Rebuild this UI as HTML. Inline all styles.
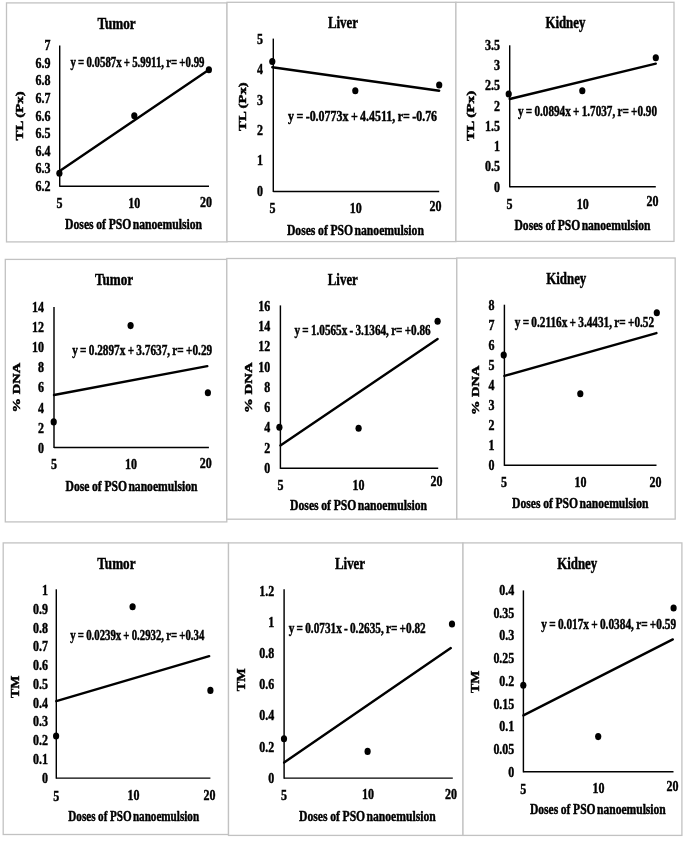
<!DOCTYPE html>
<html><head><meta charset="utf-8"><title>Figure</title>
<style>
html,body{margin:0;padding:0;background:#fff;}
body{width:685px;height:842px;overflow:hidden;}
svg{display:block;filter:blur(0.45px);font-family:"Liberation Serif",serif;font-weight:bold;fill:#000;}
text{stroke:#000;stroke-width:0.45;word-spacing:-0.7px;}
.ax{stroke:#000;stroke-width:1.45;}
.tr{stroke:#000;stroke-width:2.4;stroke-linecap:round;}
</style></head><body>
<svg width="685" height="842" viewBox="0 0 685 842">
<rect width="685" height="842" fill="#fff"/>
<!-- p1 -->
<rect x="6.5" y="2.9" width="220.5" height="239.0" fill="#fff" stroke="#c2c2c2" stroke-width="1.3"/>
<text x="97.5" y="28.8" font-size="16" textLength="38.2" lengthAdjust="spacingAndGlyphs">Tumor</text>
<line x1="59.7" y1="45.5" x2="59.7" y2="186.8" class="ax"/>
<line x1="59.7" y1="186.2" x2="209.0" y2="186.2" class="ax"/>
<text x="44.6" y="50.1" font-size="15.2" textLength="6.0" lengthAdjust="spacingAndGlyphs">7</text>
<text x="35.6" y="67.7" font-size="15.2" textLength="15.0" lengthAdjust="spacingAndGlyphs">6.9</text>
<text x="35.6" y="85.3" font-size="15.2" textLength="15.0" lengthAdjust="spacingAndGlyphs">6.8</text>
<text x="35.6" y="102.9" font-size="15.2" textLength="15.0" lengthAdjust="spacingAndGlyphs">6.7</text>
<text x="35.6" y="120.5" font-size="15.2" textLength="15.0" lengthAdjust="spacingAndGlyphs">6.6</text>
<text x="35.6" y="138.1" font-size="15.2" textLength="15.0" lengthAdjust="spacingAndGlyphs">6.5</text>
<text x="35.6" y="155.7" font-size="15.2" textLength="15.0" lengthAdjust="spacingAndGlyphs">6.4</text>
<text x="35.6" y="173.3" font-size="15.2" textLength="15.0" lengthAdjust="spacingAndGlyphs">6.3</text>
<text x="35.6" y="190.8" font-size="15.2" textLength="15.0" lengthAdjust="spacingAndGlyphs">6.2</text>
<text x="56.4" y="208.0" font-size="15.2" textLength="6.0" lengthAdjust="spacingAndGlyphs">5</text>
<text x="128.2" y="208.2" font-size="15.2" textLength="12.0" lengthAdjust="spacingAndGlyphs">10</text>
<text x="200.1" y="207.1" font-size="15.2" textLength="12.0" lengthAdjust="spacingAndGlyphs">20</text>
<text x="65.1" y="229.3" font-size="14.5" textLength="137.0" lengthAdjust="spacingAndGlyphs" style="word-spacing:-0.3px">Doses of PSO <tspan dx="-1.6">nanoemulsion</tspan></text>
<text transform="translate(23.2,140.4) rotate(-90)" font-size="10.5" textLength="49.0" lengthAdjust="spacingAndGlyphs" style="word-spacing:0">TL (Px)</text>
<text x="70.5" y="66.7" font-size="14" textLength="134.0" lengthAdjust="spacingAndGlyphs">y = 0.0587x + 5.9911, r= +0.99</text>
<line x1="59.7" y1="171.0" x2="208.9" y2="69.8" class="tr"/>
<ellipse cx="59.4" cy="173.3" rx="3.1" ry="3.55"/>
<ellipse cx="134.3" cy="115.8" rx="3.1" ry="3.55"/>
<ellipse cx="208.9" cy="69.8" rx="3.1" ry="3.55"/>
<!-- p2 -->
<rect x="227.0" y="2.3" width="228.9" height="239.3" fill="#fff" stroke="#c2c2c2" stroke-width="1.3"/>
<text x="327.9" y="27.8" font-size="16" textLength="30.0" lengthAdjust="spacingAndGlyphs">Liver</text>
<line x1="273.3" y1="38.6" x2="273.3" y2="192.0" class="ax"/>
<line x1="273.3" y1="191.4" x2="439.2" y2="191.4" class="ax"/>
<text x="257.0" y="43.9" font-size="15.2" textLength="6.0" lengthAdjust="spacingAndGlyphs">5</text>
<text x="257.0" y="74.3" font-size="15.2" textLength="6.0" lengthAdjust="spacingAndGlyphs">4</text>
<text x="257.0" y="104.6" font-size="15.2" textLength="6.0" lengthAdjust="spacingAndGlyphs">3</text>
<text x="257.0" y="135.0" font-size="15.2" textLength="6.0" lengthAdjust="spacingAndGlyphs">2</text>
<text x="257.0" y="165.3" font-size="15.2" textLength="6.0" lengthAdjust="spacingAndGlyphs">1</text>
<text x="257.0" y="195.7" font-size="15.2" textLength="6.0" lengthAdjust="spacingAndGlyphs">0</text>
<text x="269.6" y="213.3" font-size="15.2" textLength="6.0" lengthAdjust="spacingAndGlyphs">5</text>
<text x="349.8" y="213.3" font-size="15.2" textLength="12.0" lengthAdjust="spacingAndGlyphs">10</text>
<text x="429.6" y="211.3" font-size="15.2" textLength="12.0" lengthAdjust="spacingAndGlyphs">20</text>
<text x="286.9" y="234.8" font-size="14.5" textLength="137.0" lengthAdjust="spacingAndGlyphs" style="word-spacing:-0.3px">Doses of PSO <tspan dx="-1.6">nanoemulsion</tspan></text>
<text transform="translate(246.1,130.9) rotate(-90)" font-size="10.5" textLength="48.6" lengthAdjust="spacingAndGlyphs" style="word-spacing:0">TL (Px)</text>
<text x="288.1" y="120.6" font-size="14" textLength="149.0" lengthAdjust="spacingAndGlyphs">y = -0.0773x + 4.4511, r= -0.76</text>
<line x1="272.3" y1="67.2" x2="439.2" y2="90.7" class="tr"/>
<ellipse cx="272.3" cy="61.5" rx="3.1" ry="3.55"/>
<ellipse cx="355.3" cy="90.7" rx="3.1" ry="3.55"/>
<ellipse cx="439.2" cy="85.0" rx="3.1" ry="3.55"/>
<!-- p3 -->
<rect x="455.9" y="2.3" width="218.1" height="239.1" fill="#fff" stroke="#c2c2c2" stroke-width="1.3"/>
<text x="545.4" y="28.2" font-size="16" textLength="40.0" lengthAdjust="spacingAndGlyphs">Kidney</text>
<line x1="509.7" y1="45.3" x2="509.7" y2="187.3" class="ax"/>
<line x1="509.7" y1="186.7" x2="655.8" y2="186.7" class="ax"/>
<text x="484.9" y="49.9" font-size="15.2" textLength="15.0" lengthAdjust="spacingAndGlyphs">3.5</text>
<text x="493.9" y="70.1" font-size="15.2" textLength="6.0" lengthAdjust="spacingAndGlyphs">3</text>
<text x="484.9" y="90.4" font-size="15.2" textLength="15.0" lengthAdjust="spacingAndGlyphs">2.5</text>
<text x="493.9" y="110.6" font-size="15.2" textLength="6.0" lengthAdjust="spacingAndGlyphs">2</text>
<text x="484.9" y="130.9" font-size="15.2" textLength="15.0" lengthAdjust="spacingAndGlyphs">1.5</text>
<text x="493.9" y="151.1" font-size="15.2" textLength="6.0" lengthAdjust="spacingAndGlyphs">1</text>
<text x="484.9" y="171.4" font-size="15.2" textLength="15.0" lengthAdjust="spacingAndGlyphs">0.5</text>
<text x="493.9" y="191.7" font-size="15.2" textLength="6.0" lengthAdjust="spacingAndGlyphs">0</text>
<text x="506.4" y="208.8" font-size="15.2" textLength="6.0" lengthAdjust="spacingAndGlyphs">5</text>
<text x="576.7" y="208.6" font-size="15.2" textLength="12.0" lengthAdjust="spacingAndGlyphs">10</text>
<text x="646.4" y="206.4" font-size="15.2" textLength="12.0" lengthAdjust="spacingAndGlyphs">20</text>
<text x="514.5" y="229.8" font-size="14.5" textLength="136.0" lengthAdjust="spacingAndGlyphs" style="word-spacing:-0.3px">Doses of PSO <tspan dx="-1.6">nanoemulsion</tspan></text>
<text transform="translate(474.4,141.1) rotate(-90)" font-size="10.5" textLength="50.4" lengthAdjust="spacingAndGlyphs" style="word-spacing:0">TL (Px)</text>
<text x="518.0" y="116.1" font-size="14" textLength="139.0" lengthAdjust="spacingAndGlyphs">y = 0.0894x + 1.7037, r= +0.90</text>
<line x1="509.7" y1="99.0" x2="655.8" y2="63.6" class="tr"/>
<ellipse cx="508.7" cy="94.0" rx="3.1" ry="3.55"/>
<ellipse cx="582.3" cy="90.7" rx="3.1" ry="3.55"/>
<ellipse cx="655.8" cy="57.8" rx="3.1" ry="3.55"/>
<!-- p4 -->
<rect x="5.3" y="259.4" width="221.5" height="262.5" fill="#fff" stroke="#c2c2c2" stroke-width="1.3"/>
<text x="94.9" y="285.0" font-size="16" textLength="38.2" lengthAdjust="spacingAndGlyphs">Tumor</text>
<line x1="54.0" y1="307.0" x2="54.0" y2="448.0" class="ax"/>
<line x1="54.0" y1="447.4" x2="208.9" y2="447.4" class="ax"/>
<text x="32.0" y="311.8" font-size="15.2" textLength="12.0" lengthAdjust="spacingAndGlyphs">14</text>
<text x="32.0" y="332.0" font-size="15.2" textLength="12.0" lengthAdjust="spacingAndGlyphs">12</text>
<text x="32.0" y="352.1" font-size="15.2" textLength="12.0" lengthAdjust="spacingAndGlyphs">10</text>
<text x="38.0" y="372.2" font-size="15.2" textLength="6.0" lengthAdjust="spacingAndGlyphs">8</text>
<text x="38.0" y="392.4" font-size="15.2" textLength="6.0" lengthAdjust="spacingAndGlyphs">6</text>
<text x="38.0" y="412.5" font-size="15.2" textLength="6.0" lengthAdjust="spacingAndGlyphs">4</text>
<text x="38.0" y="432.6" font-size="15.2" textLength="6.0" lengthAdjust="spacingAndGlyphs">2</text>
<text x="38.0" y="452.8" font-size="15.2" textLength="6.0" lengthAdjust="spacingAndGlyphs">0</text>
<text x="51.0" y="469.2" font-size="15.2" textLength="6.0" lengthAdjust="spacingAndGlyphs">5</text>
<text x="125.0" y="468.8" font-size="15.2" textLength="12.0" lengthAdjust="spacingAndGlyphs">10</text>
<text x="199.8" y="467.5" font-size="15.2" textLength="12.0" lengthAdjust="spacingAndGlyphs">20</text>
<text x="65.5" y="490.5" font-size="14.5" textLength="132.0" lengthAdjust="spacingAndGlyphs" style="word-spacing:-0.3px">Dose of PSO <tspan dx="-1.6">nanoemulsion</tspan></text>
<text transform="translate(20.3,412.4) rotate(-90)" font-size="10.5" textLength="49.5" lengthAdjust="spacingAndGlyphs" style="word-spacing:0">% DNA</text>
<text x="72.2" y="355.4" font-size="14" textLength="140.0" lengthAdjust="spacingAndGlyphs">y = 0.2897x + 3.7637, r= +0.29</text>
<line x1="54.0" y1="395.0" x2="207.3" y2="366.1" class="tr"/>
<ellipse cx="53.7" cy="421.9" rx="3.1" ry="3.55"/>
<ellipse cx="130.6" cy="325.6" rx="3.1" ry="3.55"/>
<ellipse cx="207.9" cy="392.7" rx="3.1" ry="3.55"/>
<!-- p5 -->
<rect x="226.8" y="258.5" width="230.0" height="260.7" fill="#fff" stroke="#c2c2c2" stroke-width="1.3"/>
<text x="327.8" y="285.0" font-size="16" textLength="30.0" lengthAdjust="spacingAndGlyphs">Liver</text>
<line x1="280.4" y1="305.4" x2="280.4" y2="468.9" class="ax"/>
<line x1="280.4" y1="468.3" x2="438.2" y2="468.3" class="ax"/>
<text x="258.3" y="310.6" font-size="15.2" textLength="12.0" lengthAdjust="spacingAndGlyphs">16</text>
<text x="258.3" y="330.9" font-size="15.2" textLength="12.0" lengthAdjust="spacingAndGlyphs">14</text>
<text x="258.3" y="351.2" font-size="15.2" textLength="12.0" lengthAdjust="spacingAndGlyphs">12</text>
<text x="258.3" y="371.5" font-size="15.2" textLength="12.0" lengthAdjust="spacingAndGlyphs">10</text>
<text x="264.3" y="391.8" font-size="15.2" textLength="6.0" lengthAdjust="spacingAndGlyphs">8</text>
<text x="264.3" y="412.1" font-size="15.2" textLength="6.0" lengthAdjust="spacingAndGlyphs">6</text>
<text x="264.3" y="432.4" font-size="15.2" textLength="6.0" lengthAdjust="spacingAndGlyphs">4</text>
<text x="264.3" y="452.7" font-size="15.2" textLength="6.0" lengthAdjust="spacingAndGlyphs">2</text>
<text x="264.3" y="472.9" font-size="15.2" textLength="6.0" lengthAdjust="spacingAndGlyphs">0</text>
<text x="277.4" y="489.6" font-size="15.2" textLength="6.0" lengthAdjust="spacingAndGlyphs">5</text>
<text x="352.6" y="489.6" font-size="15.2" textLength="12.0" lengthAdjust="spacingAndGlyphs">10</text>
<text x="430.6" y="486.3" font-size="15.2" textLength="12.0" lengthAdjust="spacingAndGlyphs">20</text>
<text x="290.1" y="510.1" font-size="14.5" textLength="137.0" lengthAdjust="spacingAndGlyphs" style="word-spacing:-0.3px">Doses of PSO <tspan dx="-1.6">nanoemulsion</tspan></text>
<text transform="translate(251.7,412.9) rotate(-90)" font-size="10.5" textLength="50.5" lengthAdjust="spacingAndGlyphs" style="word-spacing:0">% DNA</text>
<text x="294.5" y="335.3" font-size="14" textLength="136.1" lengthAdjust="spacingAndGlyphs">y = 1.0565x - 3.1364, r= +0.86</text>
<line x1="280.4" y1="445.4" x2="437.6" y2="339.0" class="tr"/>
<ellipse cx="279.4" cy="427.3" rx="3.1" ry="3.55"/>
<ellipse cx="358.6" cy="428.3" rx="3.1" ry="3.55"/>
<ellipse cx="437.6" cy="321.2" rx="3.1" ry="3.55"/>
<!-- p6 -->
<rect x="456.8" y="258.0" width="218.4" height="261.1" fill="#fff" stroke="#c2c2c2" stroke-width="1.3"/>
<text x="546.3" y="284.3" font-size="16" textLength="40.0" lengthAdjust="spacingAndGlyphs">Kidney</text>
<line x1="504.4" y1="304.7" x2="504.4" y2="465.9" class="ax"/>
<line x1="504.4" y1="465.3" x2="656.5" y2="465.3" class="ax"/>
<text x="488.6" y="310.0" font-size="15.2" textLength="6.0" lengthAdjust="spacingAndGlyphs">8</text>
<text x="488.6" y="330.1" font-size="15.2" textLength="6.0" lengthAdjust="spacingAndGlyphs">7</text>
<text x="488.6" y="350.1" font-size="15.2" textLength="6.0" lengthAdjust="spacingAndGlyphs">6</text>
<text x="488.6" y="370.2" font-size="15.2" textLength="6.0" lengthAdjust="spacingAndGlyphs">5</text>
<text x="488.6" y="390.2" font-size="15.2" textLength="6.0" lengthAdjust="spacingAndGlyphs">4</text>
<text x="488.6" y="410.2" font-size="15.2" textLength="6.0" lengthAdjust="spacingAndGlyphs">3</text>
<text x="488.6" y="430.3" font-size="15.2" textLength="6.0" lengthAdjust="spacingAndGlyphs">2</text>
<text x="488.6" y="450.3" font-size="15.2" textLength="6.0" lengthAdjust="spacingAndGlyphs">1</text>
<text x="488.6" y="470.3" font-size="15.2" textLength="6.0" lengthAdjust="spacingAndGlyphs">0</text>
<text x="501.0" y="487.4" font-size="15.2" textLength="6.0" lengthAdjust="spacingAndGlyphs">5</text>
<text x="574.6" y="487.1" font-size="15.2" textLength="12.0" lengthAdjust="spacingAndGlyphs">10</text>
<text x="649.6" y="487.0" font-size="15.2" textLength="12.0" lengthAdjust="spacingAndGlyphs">20</text>
<text x="512.1" y="507.9" font-size="14.5" textLength="136.5" lengthAdjust="spacingAndGlyphs" style="word-spacing:-0.3px">Doses of PSO <tspan dx="-1.6">nanoemulsion</tspan></text>
<text transform="translate(478.7,415.1) rotate(-90)" font-size="10.5" textLength="49.5" lengthAdjust="spacingAndGlyphs" style="word-spacing:0">% DNA</text>
<text x="514.8" y="326.6" font-size="14" textLength="139.3" lengthAdjust="spacingAndGlyphs">y = 0.2116x + 3.4431, r= +0.52</text>
<line x1="504.4" y1="375.9" x2="656.4" y2="333.1" class="tr"/>
<ellipse cx="503.7" cy="355.1" rx="3.1" ry="3.55"/>
<ellipse cx="580.3" cy="393.7" rx="3.1" ry="3.55"/>
<ellipse cx="656.8" cy="312.8" rx="3.1" ry="3.55"/>
<!-- p7 -->
<rect x="3.2" y="542.9" width="225.3" height="291.6" fill="#fff" stroke="#c2c2c2" stroke-width="1.3"/>
<text x="97.3" y="568.9" font-size="16" textLength="38.2" lengthAdjust="spacingAndGlyphs">Tumor</text>
<line x1="56.3" y1="589.3" x2="56.3" y2="778.7" class="ax"/>
<line x1="56.3" y1="778.1" x2="210.4" y2="778.1" class="ax"/>
<text x="42.1" y="595.0" font-size="15.2" textLength="6.0" lengthAdjust="spacingAndGlyphs">1</text>
<text x="33.1" y="613.8" font-size="15.2" textLength="15.0" lengthAdjust="spacingAndGlyphs">0.9</text>
<text x="33.1" y="632.6" font-size="15.2" textLength="15.0" lengthAdjust="spacingAndGlyphs">0.8</text>
<text x="33.1" y="651.4" font-size="15.2" textLength="15.0" lengthAdjust="spacingAndGlyphs">0.7</text>
<text x="33.1" y="670.1" font-size="15.2" textLength="15.0" lengthAdjust="spacingAndGlyphs">0.6</text>
<text x="33.1" y="688.9" font-size="15.2" textLength="15.0" lengthAdjust="spacingAndGlyphs">0.5</text>
<text x="33.1" y="707.7" font-size="15.2" textLength="15.0" lengthAdjust="spacingAndGlyphs">0.4</text>
<text x="33.1" y="726.4" font-size="15.2" textLength="15.0" lengthAdjust="spacingAndGlyphs">0.3</text>
<text x="33.1" y="745.2" font-size="15.2" textLength="15.0" lengthAdjust="spacingAndGlyphs">0.2</text>
<text x="33.1" y="764.0" font-size="15.2" textLength="15.0" lengthAdjust="spacingAndGlyphs">0.1</text>
<text x="42.1" y="782.8" font-size="15.2" textLength="6.0" lengthAdjust="spacingAndGlyphs">0</text>
<text x="53.2" y="800.5" font-size="15.2" textLength="6.0" lengthAdjust="spacingAndGlyphs">5</text>
<text x="127.5" y="800.1" font-size="15.2" textLength="12.0" lengthAdjust="spacingAndGlyphs">10</text>
<text x="203.6" y="800.1" font-size="15.2" textLength="12.0" lengthAdjust="spacingAndGlyphs">20</text>
<text x="68.3" y="820.9" font-size="14.5" textLength="130.8" lengthAdjust="spacingAndGlyphs" style="word-spacing:-0.3px">Doses of PSO <tspan dx="-1.6">nanoemulsion</tspan></text>
<text transform="translate(19.3,698.0) rotate(-90)" font-size="12.5" textLength="22.5" lengthAdjust="spacingAndGlyphs" style="word-spacing:0">TM</text>
<text x="70.3" y="640.4" font-size="14" textLength="134.0" lengthAdjust="spacingAndGlyphs">y = 0.0239x + 0.2932, r= +0.34</text>
<line x1="56.3" y1="701.1" x2="209.2" y2="656.2" class="tr"/>
<ellipse cx="56.1" cy="736.0" rx="3.1" ry="3.55"/>
<ellipse cx="132.6" cy="606.7" rx="3.1" ry="3.55"/>
<ellipse cx="210.4" cy="690.4" rx="3.1" ry="3.55"/>
<!-- p8 -->
<rect x="228.5" y="542.9" width="234.5" height="292.5" fill="#fff" stroke="#c2c2c2" stroke-width="1.3"/>
<text x="335.0" y="568.9" font-size="16" textLength="30.0" lengthAdjust="spacingAndGlyphs">Liver</text>
<line x1="284.1" y1="589.3" x2="284.1" y2="778.7" class="ax"/>
<line x1="284.1" y1="778.1" x2="452.8" y2="778.1" class="ax"/>
<text x="259.3" y="595.8" font-size="15.2" textLength="15.0" lengthAdjust="spacingAndGlyphs">1.2</text>
<text x="268.3" y="626.9" font-size="15.2" textLength="6.0" lengthAdjust="spacingAndGlyphs">1</text>
<text x="259.3" y="658.1" font-size="15.2" textLength="15.0" lengthAdjust="spacingAndGlyphs">0.8</text>
<text x="259.3" y="689.2" font-size="15.2" textLength="15.0" lengthAdjust="spacingAndGlyphs">0.6</text>
<text x="259.3" y="720.4" font-size="15.2" textLength="15.0" lengthAdjust="spacingAndGlyphs">0.4</text>
<text x="259.3" y="751.6" font-size="15.2" textLength="15.0" lengthAdjust="spacingAndGlyphs">0.2</text>
<text x="268.3" y="782.8" font-size="15.2" textLength="6.0" lengthAdjust="spacingAndGlyphs">0</text>
<text x="281.0" y="799.6" font-size="15.2" textLength="6.0" lengthAdjust="spacingAndGlyphs">5</text>
<text x="362.1" y="799.4" font-size="15.2" textLength="12.0" lengthAdjust="spacingAndGlyphs">10</text>
<text x="445.0" y="798.8" font-size="15.2" textLength="12.0" lengthAdjust="spacingAndGlyphs">20</text>
<text x="299.1" y="821.0" font-size="14.5" textLength="136.6" lengthAdjust="spacingAndGlyphs" style="word-spacing:-0.3px">Doses of PSO <tspan dx="-1.6">nanoemulsion</tspan></text>
<text transform="translate(245.2,691.3) rotate(-90)" font-size="12.5" textLength="23.0" lengthAdjust="spacingAndGlyphs" style="word-spacing:0">TM</text>
<text x="288.7" y="632.6" font-size="14" textLength="137.0" lengthAdjust="spacingAndGlyphs">y = 0.0731x - 0.2635, r= +0.82</text>
<line x1="284.1" y1="762.6" x2="450.8" y2="648.1" class="tr"/>
<ellipse cx="284.0" cy="738.8" rx="3.1" ry="3.55"/>
<ellipse cx="367.6" cy="751.4" rx="3.1" ry="3.55"/>
<ellipse cx="452.0" cy="624.0" rx="3.1" ry="3.55"/>
<!-- p9 -->
<rect x="463.0" y="542.9" width="218.9" height="292.5" fill="#fff" stroke="#c2c2c2" stroke-width="1.3"/>
<text x="557.2" y="568.9" font-size="16" textLength="40.0" lengthAdjust="spacingAndGlyphs">Kidney</text>
<line x1="523.4" y1="590.4" x2="523.4" y2="772.4" class="ax"/>
<line x1="523.4" y1="771.8" x2="673.5" y2="771.8" class="ax"/>
<text x="499.3" y="595.0" font-size="15.2" textLength="15.0" lengthAdjust="spacingAndGlyphs">0.4</text>
<text x="493.4" y="617.7" font-size="15.2" textLength="20.9" lengthAdjust="spacingAndGlyphs">0.35</text>
<text x="499.3" y="640.4" font-size="15.2" textLength="15.0" lengthAdjust="spacingAndGlyphs">0.3</text>
<text x="493.4" y="663.1" font-size="15.2" textLength="20.9" lengthAdjust="spacingAndGlyphs">0.25</text>
<text x="499.3" y="685.8" font-size="15.2" textLength="15.0" lengthAdjust="spacingAndGlyphs">0.2</text>
<text x="493.4" y="708.5" font-size="15.2" textLength="20.9" lengthAdjust="spacingAndGlyphs">0.15</text>
<text x="499.3" y="731.2" font-size="15.2" textLength="15.0" lengthAdjust="spacingAndGlyphs">0.1</text>
<text x="493.4" y="753.9" font-size="15.2" textLength="20.9" lengthAdjust="spacingAndGlyphs">0.05</text>
<text x="508.3" y="776.5" font-size="15.2" textLength="6.0" lengthAdjust="spacingAndGlyphs">0</text>
<text x="520.3" y="793.5" font-size="15.2" textLength="6.0" lengthAdjust="spacingAndGlyphs">5</text>
<text x="592.5" y="793.2" font-size="15.2" textLength="12.0" lengthAdjust="spacingAndGlyphs">10</text>
<text x="666.5" y="790.7" font-size="15.2" textLength="12.0" lengthAdjust="spacingAndGlyphs">20</text>
<text x="529.9" y="814.4" font-size="14.5" textLength="135.9" lengthAdjust="spacingAndGlyphs" style="word-spacing:-0.3px">Doses of PSO <tspan dx="-1.6">nanoemulsion</tspan></text>
<text transform="translate(479.3,693.0) rotate(-90)" font-size="12.5" textLength="22.5" lengthAdjust="spacingAndGlyphs" style="word-spacing:0">TM</text>
<text x="541.3" y="629.3" font-size="14" textLength="134.8" lengthAdjust="spacingAndGlyphs">y = 0.017x + 0.0384, r= +0.59</text>
<line x1="523.4" y1="715.4" x2="672.8" y2="639.4" class="tr"/>
<ellipse cx="523.3" cy="685.2" rx="3.1" ry="3.55"/>
<ellipse cx="598.2" cy="736.6" rx="3.1" ry="3.55"/>
<ellipse cx="673.6" cy="608.0" rx="3.1" ry="3.55"/>
</svg>
</body></html>
